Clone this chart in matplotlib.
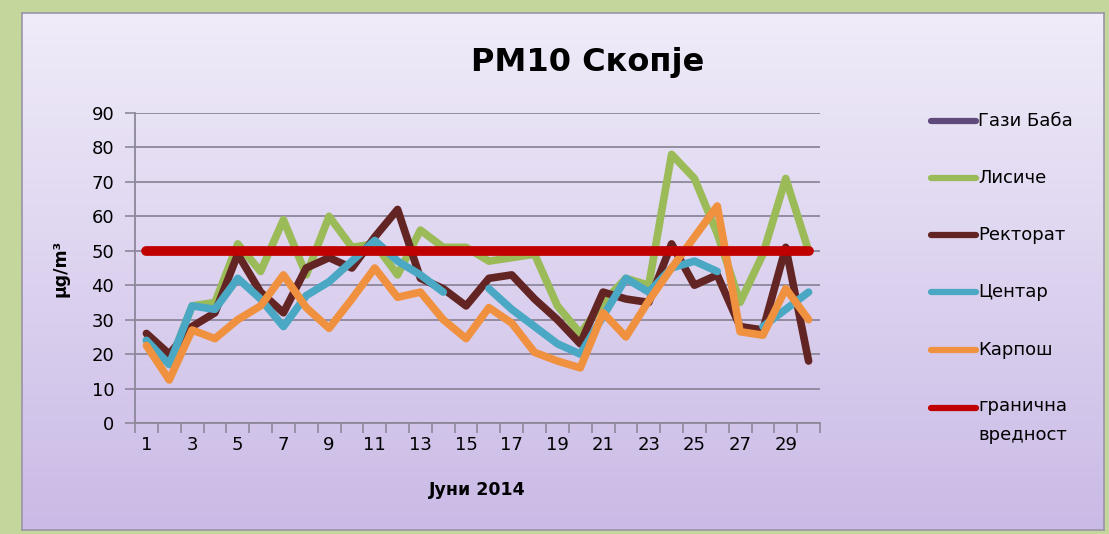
import numpy as np
import matplotlib
matplotlib.use("Agg")
import matplotlib.pyplot as plt
from matplotlib.lines import Line2D

plt.rcParams['font.family'] = ['DejaVu Sans']

# ---------------- data ----------------
days = list(range(1, 31))
xtick_labels = [str(d) for d in range(1, 31, 2)]
yticks = list(range(0, 100, 10))

gazi_baba = [np.nan] * 30
lisice = [24, 17, 34, 35, 52, 44, 59, 43, 60, 51, 52, 43, 56, 51, 51,
          47, 48, 49, 34, 26, 35, 42, 40, 78, 71, 55, 35, 49, 71, 50]
rektorat = [26, 20, 28, 32, 49, 38, 32, 45, 48, 45, 54, 62, 42, 39, 34,
            42, 43, 36, 30, 23, 38, 36, 35, 52, 40, 43, 28, 27, 51, 18]
centar = [24, 17, 34, 33, 42, 36, 28, 37, 41, 47, 53, 47, 43, 38, np.nan,
          39, 33, 28, 23, 20, 31, 42, 38, 45, 47, 44, np.nan, 28, 33, 38]
karposh = [22.5, 12.5, 27, 24.5, 30, 34, 43, 33.5, 27.5, 36, 45, 36.5, 38, 30, 24.5,
           33.5, 29, 20.5, 18, 16, 32, 25, 35.5, 45, 54, 63, 26.5, 25.5, 39, 30]
limit = [50] * 30

series_names = ['Гази Баба', 'Лисиче', 'Ректорат', 'Центар', 'Карпош', 'гранична\nвредност']
series_data = [gazi_baba, lisice, rektorat, centar, karposh, limit]
series_colors = ['#604a7b', '#9bbb59', '#632523', '#4aa8c4', '#f0913f', '#c00000']
series_widths = [5.5, 5.5, 5.5, 5.5, 5.5, 7.0]

# ---------------- figure ----------------
W, H = 1109, 534
fig = plt.figure(figsize=(W / 100, H / 100), dpi=100)
fig.patch.set_facecolor('#c3d69b')

# inner panel with vertical gradient
px0, py0, px1, py1 = 22, 13, 1104, 530
bg = fig.add_axes([px0 / W, 1 - py1 / H, (px1 - px0) / W, (py1 - py0) / H], zorder=0)
top_c = np.array([240, 236, 249]) / 255
bot_c = np.array([202, 186, 230]) / 255
t = np.linspace(0, 1, 256)[:, None]
grad = top_c[None, :] * (1 - t) + bot_c[None, :] * t
bg.imshow(grad[:, None, :], aspect='auto', extent=[0, 1, 0, 1])
bg.set_xticks([]); bg.set_yticks([])
for s in bg.spines.values():
    s.set_color('#9a94a6'); s.set_linewidth(1.2)

# plot area
ax = fig.add_axes([135 / W, 1 - 423 / H, 685 / W, 310 / H], zorder=1)
ax.set_facecolor('none')

lines = []
for name, data, col, lw in zip(series_names, series_data, series_colors, series_widths):
    ln, = ax.plot(days, data, color=col, lw=lw, solid_capstyle='round',
                  solid_joinstyle='round', label=name)
    lines.append(ln)

ax.set_xlim(0.5, 30.5)
ax.set_ylim(0, 90)
ax.set_yticks(yticks)
ax.set_xticks(list(range(1, 31, 2)))
ax.set_xticklabels(xtick_labels)
ax.set_xticks(np.arange(0.5, 31, 1), minor=True)
grid_c = '#8d879a'
ax.yaxis.grid(True, color=grid_c, lw=1.3)
ax.set_axisbelow(True)
ax.tick_params(axis='x', which='major', length=0, pad=9, labelsize=13)
ax.tick_params(axis='x', which='minor', length=7, color=grid_c, width=1.2, direction='out')
ax.tick_params(axis='y', length=7, color=grid_c, width=1.2, pad=8, labelsize=13)
for side in ['top', 'right']:
    ax.spines[side].set_visible(False)
for side in ['left', 'bottom']:
    ax.spines[side].set_color(grid_c)
    ax.spines[side].set_linewidth(1.3)

ax.set_xlabel('Јуни 2014', fontsize=12.5, fontweight='bold', labelpad=20)
ax.set_ylabel('µg/m³', fontsize=12.5, fontweight='bold', labelpad=16)

fig.text(588 / W, 1 - 62 / H, 'PM10 Скопје', ha='center', va='center',
         fontsize=23, fontweight='bold')

# legend (right side)
leg_y = [121, 178, 235, 292, 350, 408]
for ln, name, y in zip(lines, series_names, leg_y):
    fig.add_artist(Line2D([931 / W, 976 / W], [1 - y / H, 1 - y / H],
                          color=ln.get_color(), lw=4.5, solid_capstyle='round'))
    if '\n' in name:
        fig.text(978 / W, 1 - (y - 11) / H, name, ha='left', va='top',
                 fontsize=13, linespacing=1.75)
    else:
        fig.text(978 / W, 1 - y / H, name, ha='left', va='center', fontsize=13)

fig.savefig('out.png', dpi=100, facecolor=fig.get_facecolor())
